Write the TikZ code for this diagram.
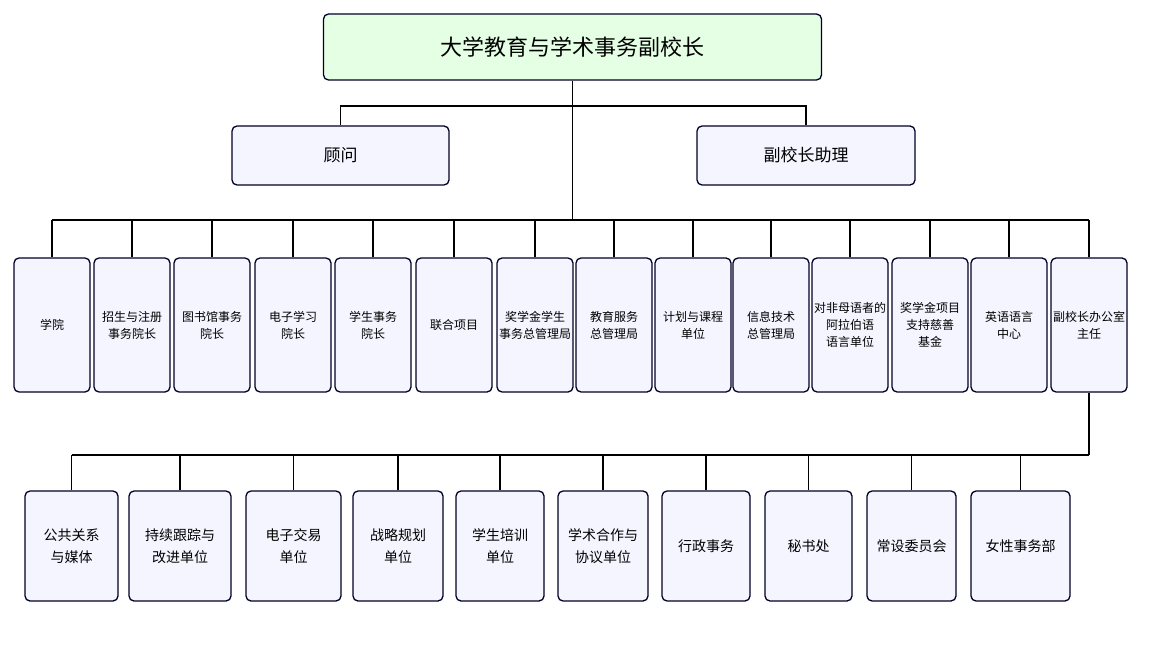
\documentclass[tikz,border=0pt]{standalone}
\usepackage{fontspec}
\setmainfont{Noto Sans CJK SC}
\begin{document}
\begin{tikzpicture}[x=1pt,y=-1pt,
  box/.style={draw=black!85!blue,line width=1.3pt,rounded corners=5pt,fill=blue!4,align=center,inner sep=1pt,font=\fontsize{12}{17}\selectfont},
  ln/.style={line width=1.5pt,black}]
\useasboundingbox (0,0) rectangle (1150,647);
\node[box,fill=green!10,minimum width=498,minimum height=66,font=\fontsize{22}{26}\selectfont] (top) at (572.5,47) {大学教育与学术事务副校长};
\node[box,minimum width=217,minimum height=59,font=\fontsize{17}{20}\selectfont] (adv) at (340.5,155.5) {顾问};
\node[box,minimum width=218,minimum height=59,font=\fontsize{17}{20}\selectfont] (asst) at (806,155.5) {副校长助理};
\coordinate (j1) at (572.5,106);
\coordinate (j2) at (572.5,220);
\draw[ln] (top.south) -- (j2);
\draw[ln] (adv.north) |- (j1) -| (asst.north);
\foreach \i/\x/\t in {1/52/学院,2/132/招生与注册\\事务院长,3/212/图书馆事务\\院长,4/293/电子学习\\院长,5/373/学生事务\\院长,6/454/联合项目,7/535/奖学金学生\\事务总管理局,8/614/教育服务\\总管理局,9/693/计划与课程\\单位,10/771/信息技术\\总管理局,11/850/对非母语者的\\阿拉伯语\\语言单位,12/930/奖学金项目\\支持慈善\\基金,13/1009/英语语言\\中心,14/1089/副校长办公室\\主任}{
  \node[box,minimum width=76,minimum height=134] (a\i) at (\x,325) {\t};
  \draw[ln] (a\i.north) -- (\x,220);
}
\draw[ln] (a1.north |- j2) -- (a14.north |- j2);
\coordinate (j3) at (1089,455);
\draw[ln] (a14.south) -- (j3);
\foreach \i/\x/\w/\t in {1/71.5/93/公共关系\\与媒体,2/180/102/持续跟踪与\\改进单位,3/293.5/95/电子交易\\单位,4/398/90/战略规划\\单位,5/500/88/学生培训\\单位,6/603/90/学术合作与\\协议单位,7/706/88/行政事务,8/808.5/87/秘书处,9/911.5/89/常设委员会,10/1020.5/99/女性事务部}{
  \node[box,minimum width=\w,minimum height=110,font=\fontsize{14}{22}\selectfont] (b\i) at (\x,546) {\t};
  \draw[ln] (b\i.north) -- (\x,455);
}
\draw[ln] (b1.north |- j3) -- (j3);
\end{tikzpicture}
\end{document}
